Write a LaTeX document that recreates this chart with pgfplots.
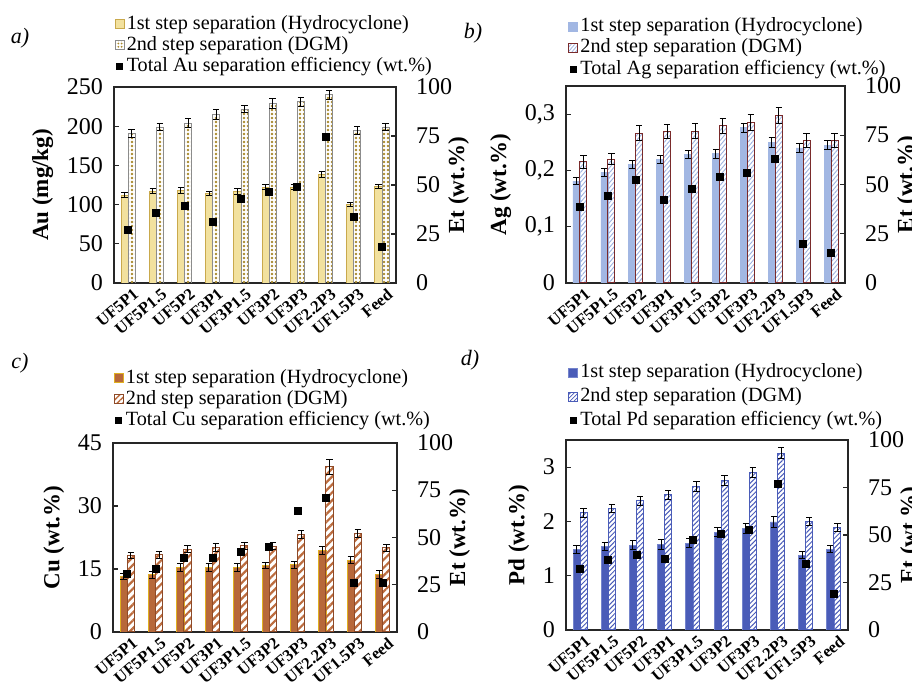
\documentclass[border=0pt]{standalone}
\usepackage{fontspec}
\setmainfont{Liberation Serif}
\usepackage{pgfplots}
\pgfplotsset{compat=1.18}
\usetikzlibrary{patterns,patterns.meta}

\definecolor{auFill}{HTML}{F2E19E}
\definecolor{auEdge}{HTML}{C9A94C}
\definecolor{auDot}{HTML}{A8892C}
\definecolor{auEdgeB}{HTML}{8C8C8C}
\definecolor{agFill}{HTML}{A2B7E3}
\definecolor{agLine}{HTML}{9DB2E0}
\definecolor{agEdgeB}{HTML}{7A2B2B}
\definecolor{cuFill}{HTML}{B7683A}
\definecolor{cuEdge}{HTML}{E0B020}
\definecolor{cuLine}{HTML}{BC6C3E}
\definecolor{cuEdgeB}{HTML}{8E4A28}
\definecolor{pdFill}{HTML}{4A5CB8}
\definecolor{pdEdge}{HTML}{7484CC}
\definecolor{pdLine}{HTML}{4A5CB8}

\pgfplotsset{
  baseax/.style={scale only axis, xmin=-0.5, xmax=9.5, ymin=0,
    anchor=south west,
    axis line style={line width=0.7pt, black!85},
    tick style={line width=0.6pt, black!85},
    major tick length=2.5pt, tick align=inside,
    /pgf/number format/assume math mode=true,
    ylabel style={font=\bfseries\fontsize{11.5}{12}\selectfont},
  },
  Lax/.style={baseax, ybar, bar width=0.25,
    xtick={0,...,9},
    xticklabels={UF5P1,UF5P1.5,UF5P2,UF3P1,UF3P1.5,UF3P2,UF3P3,UF2.2P3,UF1.5P3,Feed},
    xticklabel style={font=\bfseries\fontsize{8.3}{8.3}\selectfont, rotate=40, anchor=north east, inner sep=1pt, xshift=3pt},
    yticklabel style={font=\fontsize{12}{12}\selectfont, xshift=-2pt},
    xtick style={draw=none}, ytick pos=left,
    legend style={draw=none, fill=none, anchor=north west,
      font=\fontsize{10.1}{10.1}\selectfont, legend cell align=left,
      nodes={inner sep=0pt, text height=7.6pt, text depth=2.4pt},
      /tikz/every odd column/.append style={column sep=1.2pt}},
  },
  Rax/.style={baseax, ymax=100, axis x line=none, axis y line*=right,
    yticklabel style={font=\fontsize{12}{12}\selectfont, xshift=6.5pt},
    ylabel style={at={([xshift=22.5pt]axis description cs:1,0.5)}, anchor=north},
    ytick={0,25,50,75,100}, ylabel={Et (wt.\%)}},
  errs/.style={/pgfplots/error bars/y dir=both, /pgfplots/error bars/y explicit,
    /pgfplots/error bars/error bar style={line width=0.5pt, black},
    /pgfplots/error bars/error mark options={rotate=90, mark size=1.6pt, line width=0.5pt, black}},
  et/.style={only marks, mark=square*, mark size=1.75pt, black},
}

\begin{document}
\begin{tikzpicture}
\useasboundingbox (0,0) rectangle (456pt,345pt);

\node[font=\itshape\fontsize{11}{11}\selectfont] at (10pt,326pt) {a)};
\node[font=\itshape\fontsize{11}{11}\selectfont] at (236.5pt,328.5pt) {b)};
\node[font=\itshape\fontsize{11}{11}\selectfont] at (10pt,163.5pt) {c)};
\node[font=\itshape\fontsize{11}{11}\selectfont] at (235pt,165pt) {d)};

% ---------------- panel a: Au ----------------
\begin{axis}[Lax, at={(57pt,203.5pt)}, width=141pt, height=98pt,
  ymax=250, ytick={0,50,100,150,200,250}, ylabel={Au (mg/kg)},
  legend style={at={(-0.02,1.395)}, row sep=0.6pt}]
\addplot[bar shift=-0.125, fill=auFill, draw=auEdge, line width=0.4pt, errs,
  legend image code/.code={\draw[fill=auFill, draw=auEdge, line width=0.4pt] (0pt,-2.2pt) rectangle (4.4pt,2.2pt);}]
  coordinates {(0,112) +- (0,3) (1,117) +- (0,3) (2,118) +- (0,4) (3,114) +- (0,3) (4,117) +- (0,4)
               (5,122) +- (0,3) (6,122) +- (0,3) (7,138) +- (0,4) (8,100) +- (0,3) (9,123) +- (0,3)};
\addlegendentry{1st step separation (Hydrocyclone)}
\addplot[bar shift=0.125, pattern={Dots[distance=2pt, radius=0.65pt]}, pattern color=auDot, draw=auEdgeB, line width=0.4pt, errs,
  legend image code/.code={\draw[pattern={Dots[distance=1.6pt, radius=0.5pt]}, pattern color=auDot, draw=auEdgeB, line width=0.4pt] (0pt,-2.2pt) rectangle (4.4pt,2.2pt);}]
  coordinates {(0,191) +- (0,5) (1,199) +- (0,5) (2,204) +- (0,6) (3,215) +- (0,6) (4,222) +- (0,5)
               (5,229) +- (0,6) (6,231) +- (0,6) (7,240) +- (0,6) (8,194) +- (0,5) (9,199) +- (0,5)};
\addlegendentry{2nd step separation (DGM)}
\addlegendimage{legend image code/.code={\fill[black] (0.7pt,-1.5pt) rectangle (3.7pt,1.5pt);}}
\addlegendentry{Total Au separation efficiency (wt.\%)}
\end{axis}
\begin{axis}[Rax, at={(57pt,203.5pt)}, width=141pt, height=98pt]
\addplot[et] coordinates {(0,27.2) (1,35.9) (2,39.2) (3,31.3) (4,42.8) (5,46.7) (6,49.2) (7,74.4) (8,33.5) (9,18.6)};
\end{axis}

% ---------------- panel b: Ag ----------------
\begin{axis}[Lax, at={(283pt,203.5pt)}, width=139.5pt, height=98.5pt,
  ymax=0.35, ytick={0,0.1,0.2,0.3}, yticklabels={0,{0,1},{0,2},{0,3}}, ylabel={Ag (wt.\%)},
  legend style={at={(-0.015,1.375)}, row sep=0.6pt}]
\addplot[bar shift=-0.125, fill=agFill, draw=agFill, line width=0.3pt, errs,
  legend image code/.code={\fill[agFill] (0pt,-2.2pt) rectangle (4.4pt,2.2pt);}]
  coordinates {(0,0.181) +- (0,0.006) (1,0.197) +- (0,0.007) (2,0.211) +- (0,0.007) (3,0.219) +- (0,0.007) (4,0.228) +- (0,0.007)
               (5,0.230) +- (0,0.008) (6,0.276) +- (0,0.008) (7,0.250) +- (0,0.009) (8,0.240) +- (0,0.008) (9,0.245) +- (0,0.008)};
\addlegendentry{1st step separation (Hydrocyclone)}
\addplot[bar shift=0.125, pattern={Lines[angle=50, distance=1.6pt, line width=0.45pt]}, pattern color=agLine, draw=agEdgeB, line width=0.5pt, errs,
  legend image code/.code={\draw[pattern={Lines[angle=50, distance=1.4pt, line width=0.4pt]}, pattern color=agLine, draw=agEdgeB, line width=0.5pt] (0pt,-2.2pt) rectangle (4.4pt,2.2pt);}]
  coordinates {(0,0.215) +- (0,0.012) (1,0.220) +- (0,0.010) (2,0.266) +- (0,0.013) (3,0.269) +- (0,0.013) (4,0.270) +- (0,0.013)
               (5,0.279) +- (0,0.013) (6,0.285) +- (0,0.014) (7,0.297) +- (0,0.014) (8,0.253) +- (0,0.012) (9,0.253) +- (0,0.012)};
\addlegendentry{2nd step separation (DGM)}
\addlegendimage{legend image code/.code={\fill[black] (0.7pt,-1.5pt) rectangle (3.7pt,1.5pt);}}
\addlegendentry{Total Ag separation efficiency (wt.\%)}
\end{axis}
\begin{axis}[Rax, at={(283pt,203.5pt)}, width=139.5pt, height=98.5pt]
\addplot[et] coordinates {(0,38.6) (1,44.2) (2,52.2) (3,42.0) (4,47.9) (5,54.0) (6,55.7) (7,62.8) (8,19.6) (9,15.5)};
\end{axis}

% ---------------- panel c: Cu ----------------
\begin{axis}[Lax, at={(56.5pt,29pt)}, width=142pt, height=94.5pt,
  ymax=45, ytick={0,15,30,45}, ylabel={Cu (wt.\%)},
  legend style={at={(-0.02,1.42)}, row sep=0.6pt}]
\addplot[bar shift=-0.125, fill=cuFill, draw=cuEdge, line width=0.4pt, errs,
  legend image code/.code={\draw[fill=cuFill, draw=cuEdge, line width=0.4pt] (0pt,-2.2pt) rectangle (4.4pt,2.2pt);}]
  coordinates {(0,13.2) +- (0,0.8) (1,13.6) +- (0,0.8) (2,15.3) +- (0,0.9) (3,15.3) +- (0,0.9) (4,15.3) +- (0,0.9)
               (5,15.8) +- (0,0.8) (6,16.0) +- (0,0.8) (7,19.4) +- (0,1.0) (8,17.1) +- (0,0.9) (9,13.7) +- (0,0.9)};
\addlegendentry{1st step separation (Hydrocyclone)}
\addplot[bar shift=0.125, pattern={Lines[angle=45, distance=2.8pt, line width=1.1pt]}, pattern color=cuLine, draw=cuEdgeB, line width=0.5pt, errs,
  legend image code/.code={\draw[pattern={Lines[angle=45, distance=2pt, line width=0.7pt]}, pattern color=cuLine, draw=cuEdgeB, line width=0.5pt] (0pt,-2.2pt) rectangle (4.4pt,2.2pt);}]
  coordinates {(0,18.2) +- (0,0.8) (1,18.4) +- (0,0.8) (2,19.7) +- (0,0.8) (3,20.1) +- (0,1.0) (4,20.5) +- (0,0.9)
               (5,20.4) +- (0,0.8) (6,23.2) +- (0,1.0) (7,39.3) +- (0,1.8) (8,23.4) +- (0,1.0) (9,20.0) +- (0,0.9)};
\addlegendentry{2nd step separation (DGM)}
\addlegendimage{legend image code/.code={\fill[black] (0.7pt,-1.5pt) rectangle (3.7pt,1.5pt);}}
\addlegendentry{Total Cu separation efficiency (wt.\%)}
\end{axis}
\begin{axis}[Rax, at={(56.5pt,29pt)}, width=142pt, height=94.5pt]
\addplot[et] coordinates {(0,30.6) (1,33.4) (2,39.4) (3,39.4) (4,42.2) (5,45.0) (6,64.0) (7,71.0) (8,26.0) (9,26.0)};
\end{axis}

% ---------------- panel d: Pd ----------------
\begin{axis}[Lax, at={(283pt,30pt)}, width=141pt, height=95pt,
  ymax=3.5, ytick={0,1,2,3}, ylabel={Pd (wt.\%)},
  legend style={at={(-0.015,1.43)}, row sep=2pt}]
\addplot[bar shift=-0.125, fill=pdFill, draw=pdEdge, line width=0.4pt, errs,
  legend image code/.code={\draw[fill=pdFill, draw=pdEdge, line width=0.4pt] (0pt,-2.2pt) rectangle (4.4pt,2.2pt);}]
  coordinates {(0,1.48) +- (0,0.07) (1,1.54) +- (0,0.08) (2,1.56) +- (0,0.08) (3,1.57) +- (0,0.09) (4,1.60) +- (0,0.08)
               (5,1.80) +- (0,0.08) (6,1.87) +- (0,0.09) (7,1.99) +- (0,0.10) (8,1.38) +- (0,0.07) (9,1.49) +- (0,0.07)};
\addlegendentry{1st step separation (Hydrocyclone)}
\addplot[bar shift=0.125, pattern={Lines[angle=45, distance=1.7pt, line width=0.5pt]}, pattern color=pdLine, draw=pdLine, line width=0.5pt, errs,
  legend image code/.code={\draw[pattern={Lines[angle=45, distance=1.4pt, line width=0.4pt]}, pattern color=pdLine, draw=pdLine, line width=0.5pt] (0pt,-2.2pt) rectangle (4.4pt,2.2pt);}]
  coordinates {(0,2.16) +- (0,0.08) (1,2.24) +- (0,0.08) (2,2.38) +- (0,0.08) (3,2.49) +- (0,0.08) (4,2.65) +- (0,0.09)
               (5,2.75) +- (0,0.09) (6,2.90) +- (0,0.10) (7,3.26) +- (0,0.11) (8,2.00) +- (0,0.07) (9,1.89) +- (0,0.07)};
\addlegendentry{2nd step separation (DGM)}
\addlegendimage{legend image code/.code={\fill[black] (0.7pt,-1.5pt) rectangle (3.7pt,1.5pt);}}
\addlegendentry{Total Pd separation efficiency (wt.\%)}
\end{axis}
\begin{axis}[Rax, at={(283pt,30pt)}, width=141pt, height=95pt]
\addplot[et] coordinates {(0,32.3) (1,37.1) (2,39.5) (3,37.5) (4,47.6) (5,50.7) (6,52.8) (7,77.0) (8,34.7) (9,18.8)};
\end{axis}
\end{tikzpicture}
\end{document}
